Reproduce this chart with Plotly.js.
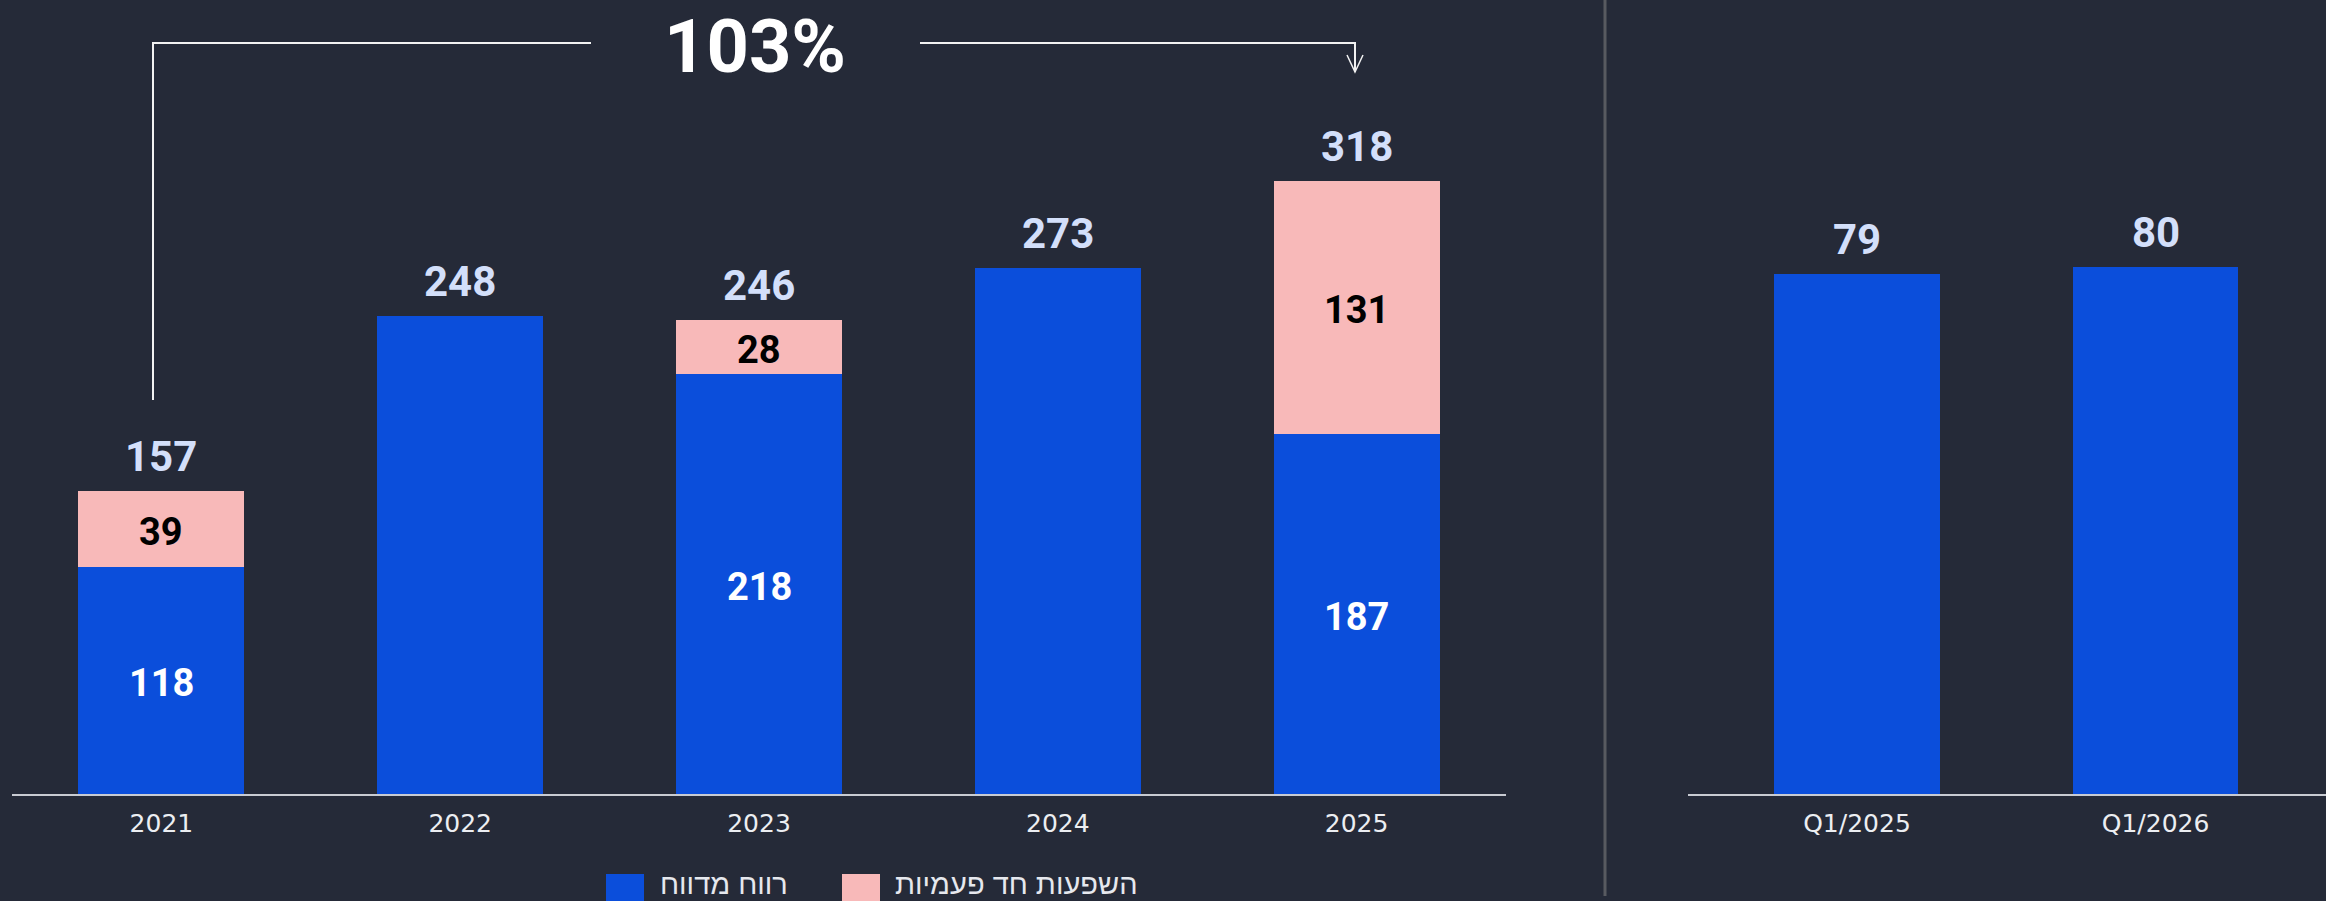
<!DOCTYPE html>
<html>
<head>
<meta charset="utf-8">
<script src="https://cdn.plot.ly/plotly-3.0.1.min.js"></script>
<style>
  html, body { margin: 0; padding: 0; background: #252a38; }
  #chart { width: 2326px; height: 901px; }
</style>
</head>
<body>
<div id="chart"></div>
<script>
// ---- data ----
const years       = ["2021", "2022", "2023", "2024", "2025"];
const reported    = [118, 248, 218, 273, 187];
const oneTime     = [39, 0, 28, 0, 131];
const totals      = [157, 248, 246, 273, 318];
const quarters    = ["Q1/2025", "Q1/2026"];
const quarterly   = [79, 80];
const seriesNames = ["רווח מדווח", "השפעות חד פעמיות"];
const growthText  = "103%";

// ---- look ----
const W = 2326, H = 901;
const BG     = "#252a38";
const BLUE   = "#0b4edb";
const PINK   = "#f8b9b9";
const TOTALC = "#d3dffa";
const NUMFONT  = "Roboto, 'DejaVu Sans', sans-serif";
const TICKFONT = "'DejaVu Sans', sans-serif";
const HEBFONT  = "'Liberation Sans', 'DejaVu Sans', sans-serif";

// pixel -> paper
const px = x => x / W;
const py = y => 1 - y / H;

const traces = [
    {
        type: "bar", x: years, y: reported, name: seriesNames[0],
        xaxis: "x", yaxis: "y", width: 0.555,
        marker: { color: BLUE, line: { width: 0 } },
        showlegend: false, hoverinfo: "skip"
    },
    {
        type: "bar", x: years, y: oneTime, name: seriesNames[1],
        xaxis: "x", yaxis: "y", width: 0.555,
        marker: { color: PINK, line: { width: 0 } },
        showlegend: false, hoverinfo: "skip"
    },
    {
        type: "bar", x: quarters, y: quarterly, name: seriesNames[0],
        xaxis: "x2", yaxis: "y2", width: 0.555,
        marker: { color: BLUE, line: { width: 0 } },
        showlegend: false, hoverinfo: "skip"
    }
];

const annotations = [];

// totals above the stacks (x given as category index: "2021" would be read as a number)
years.forEach((yr, i) => {
    annotations.push({
        x: i, y: totals[i], xref: "x", yref: "y",
        text: String(totals[i]), showarrow: false,
        yanchor: "bottom", yshift: 8,
        font: { family: NUMFONT, size: 42, weight: 700, color: TOTALC }
    });
    // inner labels only where a one-time part exists
    if (oneTime[i] > 0) {
        annotations.push({
            x: i, y: reported[i] / 2, xref: "x", yref: "y",
            text: String(reported[i]), showarrow: false, yshift: -3,
            font: { family: NUMFONT, size: 38, weight: 700, color: "#ffffff" }
        });
        annotations.push({
            x: i, y: reported[i] + oneTime[i] / 2, xref: "x", yref: "y",
            text: String(oneTime[i]), showarrow: false, yshift: -3,
            font: { family: NUMFONT, size: 38, weight: 700, color: "#000000" }
        });
    }
});

quarters.forEach((q, i) => {
    annotations.push({
        x: i, y: quarterly[i], xref: "x2", yref: "y2",
        text: String(quarterly[i]), showarrow: false,
        yanchor: "bottom", yshift: 8,
        font: { family: NUMFONT, size: 42, weight: 700, color: TOTALC }
    });
});

// growth callout
annotations.push({
    x: px(755), y: py(46), xref: "paper", yref: "paper",
    xanchor: "center", yanchor: "middle",
    text: growthText, showarrow: false,
    font: { family: NUMFONT, size: 74, weight: 700, color: "#ffffff" }
});

// legend (drawn by hand so the swatches can be large)
annotations.push({
    x: px(658), y: py(884), xref: "paper", yref: "paper",
    xanchor: "left", yanchor: "middle", text: seriesNames[0], showarrow: false,
    font: { family: HEBFONT, size: 29, color: "#e6e8ee" }
});
annotations.push({
    x: px(893), y: py(884), xref: "paper", yref: "paper",
    xanchor: "left", yanchor: "middle", text: seriesNames[1], showarrow: false,
    font: { family: HEBFONT, size: 29, color: "#e6e8ee" }
});

const WHITE_LINE = { color: "#f2f2f2", width: 2 };

const shapes = [
    // divider between panels
    { type: "line", xref: "paper", yref: "paper",
      x0: px(1605), x1: px(1605), y0: py(0), y1: py(896),
      line: { color: "#585a60", width: 3 } },
    // bracket: up from 2021, across, down into 2025
    { type: "path", xref: "paper", yref: "paper", line: WHITE_LINE,
      path: `M${px(153)},${py(400)} L${px(153)},${py(43)} L${px(591)},${py(43)}` },
    { type: "path", xref: "paper", yref: "paper", line: WHITE_LINE,
      path: `M${px(920)},${py(43)} L${px(1355)},${py(43)} L${px(1355)},${py(72)}` },
    { type: "path", xref: "paper", yref: "paper", line: { color: "#f2f2f2", width: 1.5 },
      path: `M${px(1347)},${py(55)} L${px(1355)},${py(72)} L${px(1363)},${py(55)}` },
    // legend swatches
    { type: "rect", xref: "paper", yref: "paper",
      x0: px(606), x1: px(644), y0: py(874), y1: py(915),
      fillcolor: BLUE, line: { width: 0 } },
    { type: "rect", xref: "paper", yref: "paper",
      x0: px(842), x1: px(880), y0: py(874), y1: py(915),
      fillcolor: PINK, line: { width: 0 } }
];

const baseAxis = {
    type: "category",
    showgrid: false, zeroline: false,
    showline: true, linecolor: "#c8cbd2", linewidth: 2,
    ticks: "", ticklabelstandoff: 6,
    tickfont: { family: TICKFONT, size: 25, color: "#eceef2" },
    fixedrange: true
};

const layout = {
    width: W, height: H,
    margin: { l: 0, r: 0, t: 0, b: 0 },
    paper_bgcolor: BG, plot_bgcolor: BG,
    barmode: "stack",
    showlegend: false,
    hovermode: false,
    xaxis: Object.assign({}, baseAxis, {
        domain: [px(12), px(1506)], anchor: "y", range: [-0.5, 4.5]
    }),
    xaxis2: Object.assign({}, baseAxis, {
        domain: [px(1688), 1], anchor: "y2", range: [-0.566, 1.571]
    }),
    yaxis: {
        domain: [107 / H, 1], range: [0, 412], visible: false,
        showgrid: false, zeroline: false, fixedrange: true
    },
    yaxis2: {
        domain: [107 / H, 1], range: [0, 120.6], visible: false,
        showgrid: false, zeroline: false, fixedrange: true
    },
    annotations: annotations,
    shapes: shapes
};

Plotly.newPlot("chart", traces, layout, { staticPlot: true, displayModeBar: false });
</script>
</body>
</html>
